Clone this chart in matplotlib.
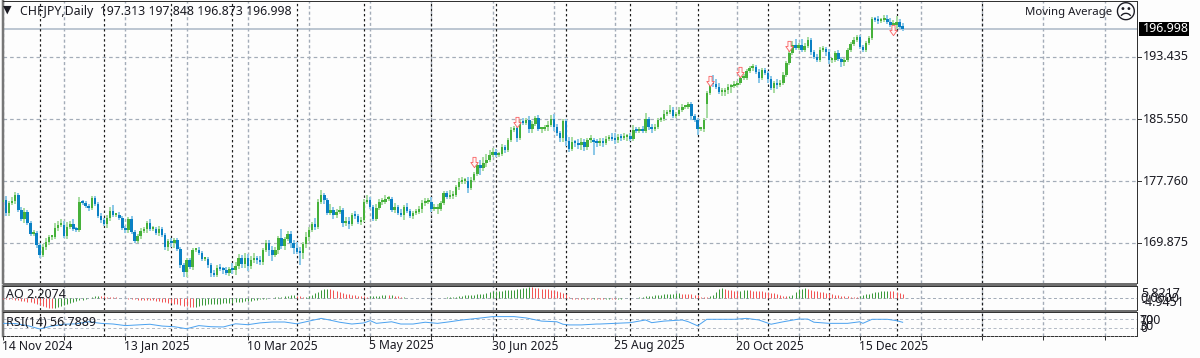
import numpy as np
import matplotlib
matplotlib.use("Agg")
import matplotlib.pyplot as plt
from matplotlib.path import Path

plt.rcParams['font.family'] = ['Noto Sans', 'DejaVu Sans']

# closes, one per daily bar
closes = [
    175.32,173.67,174.94,175.19,175.95,174.05,172.91,173.80,172.40,171.01,
    171.14,169.62,168.35,169.36,170.00,170.63,170.63,171.77,172.15,172.15,
    170.76,171.90,172.28,171.64,171.52,175.06,174.94,174.56,174.30,175.57,
    174.81,173.29,172.78,172.28,173.04,173.92,173.42,173.42,173.04,171.77,
    171.52,172.91,171.26,170.12,170.76,171.39,171.64,172.40,171.64,171.64,
    171.14,171.64,170.88,169.36,170.12,169.87,170.25,169.11,167.08,166.20,
    167.72,166.83,168.98,168.98,168.60,167.84,167.84,167.08,166.07,165.82,
    166.70,166.58,166.45,166.07,166.58,166.45,166.96,167.97,167.21,167.97,
    166.96,167.72,167.84,167.72,167.46,168.98,169.87,168.98,168.35,168.98,
    170.50,169.49,170.38,171.01,169.87,169.24,168.73,168.60,169.74,170.63,
    171.52,172.28,171.90,175.06,175.95,175.32,173.67,174.05,173.42,173.80,
    174.05,172.40,172.66,172.28,173.42,173.29,172.53,172.78,175.06,175.32,
    174.43,172.91,174.30,175.06,175.06,175.44,175.44,174.05,174.43,173.67,
    173.42,174.43,173.92,173.29,173.67,173.80,174.18,174.94,175.06,175.06,
    174.18,174.18,174.18,174.94,176.20,175.70,175.82,175.95,176.96,177.60,
    177.72,177.72,176.84,177.85,178.61,179.75,179.37,180.00,180.38,181.02,
    181.40,181.02,181.14,182.03,181.65,182.92,184.18,184.44,183.17,185.20,
    185.07,185.45,184.31,184.94,185.70,184.31,184.31,184.56,184.82,185.58,
    184.56,183.80,183.17,185.32,182.79,181.78,182.66,182.54,182.28,182.66,
    182.03,182.92,182.92,182.66,182.54,182.79,182.54,183.04,183.30,183.04,
    182.92,183.30,183.17,183.30,183.42,183.04,184.18,184.06,184.18,184.06,
    185.58,184.56,184.31,184.56,185.45,185.58,186.21,186.46,186.72,185.96,
    186.21,186.72,187.10,187.10,187.48,185.96,185.45,184.31,184.31,185.45,
    188.87,190.14,190.01,189.63,189.00,189.00,189.25,189.63,189.76,189.88,
    190.14,190.77,190.77,191.66,192.04,192.16,191.53,190.77,191.78,191.40,
    190.64,189.50,190.14,189.88,190.14,191.15,192.67,193.94,194.95,194.57,
    194.95,194.32,194.82,195.58,194.06,193.43,193.05,194.32,194.44,194.06,
    193.05,193.05,193.94,193.18,192.80,193.05,194.32,195.08,195.58,195.96,
    194.70,194.32,195.20,195.84,198.24,198.12,197.99,198.12,198.24,197.86,
    197.48,197.48,197.86,197.23,196.998,
]
first_open = 175.1
# bars that opened away from the previous close
gap_opens = {230: 187.5, 294: 197.313}

# wick lengths above / below the body, tenths of a yen
wick_hi = [
    3,5,3,5,4,3,4,5,3,3, 4,3,3,4,5,3,3,6,5,7, 5,6,4,6,3,6,3,2,3,3,
    3,2,4,3,4,5,8,3,4,3, 3,3,4,3,3,4,3,3,5,4, 3,4,3,3,2,4,3,3,3,3,
    3,3,3,3,4,3,3,3,3,4, 4,5,3,4,3,8,5,5,4,6, 5,5,7,4,5,3,4,4,5,4,
    3,12,3,4,4,4,7,6,3,6, 4,3,8,4,6,3,3,8,4,4, 5,3,5,5,3,5,3,4,4,6,
    4,3,5,4,5,5,4,3,5,3, 5,3,5,3,3,4,4,4,5,5, 6,6,6,3,3,3,8,5,3,5,
    5,4,5,4,3,4,6,7,7,6, 5,4,3,4,3,3,4,3,3,3, 5,3,5,4,3,4,3,3,5,5,
    6,4,3,3,3,5,6,3,5,5, 4,3,6,3,4,4,4,4,3,5, 8,4,4,5,3,4,6,4,4,5,
    7,3,4,4,3,3,5,3,6,4, 3,4,4,3,3,3,3,3,3,2, 3,5,10,6,5,5,3,4,3,5,
    3,3,5,3,3,4,3,4,3,3, 3,4,3,5,4,4,3,3,5,8, 3,7,4,4,3,3,4,4,4,3,
    4,3,3,4,3,3,3,3,4,3, 3,3,3,3,3,3,5,3,5,5, 5,6,8,4,4,
]
wick_lo = [
    5,4,4,3,4,3,3,5,3,3, 3,4,4,3,4,4,4,3,4,3, 3,4,3,3,3,3,3,3,4,3,
    3,3,4,3,5,4,3,3,3,3, 4,4,3,3,3,4,3,5,3,3, 3,4,3,4,5,5,6,3,4,7,
    6,3,4,3,3,3,3,4,5,3, 3,3,5,3,4,5,6,4,5,5, 7,4,4,5,4,4,3,7,8,3,
    5,4,5,3,6,8,3,15,8,5, 5,3,4,3,3,5,3,3,5,4, 3,5,4,6,3,4,3,4,3,3,
    3,3,3,3,4,3,3,3,4,3, 3,6,3,3,4,3,3,5,4,3, 4,3,6,3,3,3,3,4,3,4,
    3,4,6,3,3,3,9,4,5,3, 3,3,3,3,4,3,3,3,5,3, 3,3,5,5,3,3,5,3,5,3,
    5,4,5,5,6,4,3,5,5,6, 5,4,4,16,5,4,5,3,3,3, 5,4,4,3,5,3,3,3,3,3,
    3,4,5,3,3,3,3,3,3,3, 3,3,3,3,3,5,3,8,3,4, 18,3,4,3,3,5,5,5,7,3,
    3,3,3,3,3,4,3,6,3,3, 5,3,6,5,3,3,3,3,3,3, 3,3,3,3,4,3,3,3,3,5,
    5,4,3,3,7,5,3,3,3,3, 3,3,3,3,3,3,4,3,3,3, 3,3,5,3,3,
]

ao_vals = [
    -0.2,-0.3,-0.4,-0.5,-0.7,-0.9,-1.1,-1.3,-1.6,-1.9,
    -2.2,-2.8,-3.5,-4.0,-4.5,-4.9,-4.945,-4.7,-4.2,-3.7,
    -3.2,-2.6,-2.1,-1.6,-1.3,-1.0,-0.6,-0.1,0.3,0.7,
    1.1,1.4,1.3,1.1,0.9,0.7,0.6,0.5,0.4,0.3,
    0.1,-0.1,-0.3,-0.4,-0.6,-0.7,-0.8,-0.9,-0.95,-1.0,
    -1.1,-1.3,-1.6,-1.9,-2.2,-2.5,-2.8,-3.0,-3.3,-3.6,
    -3.9,-4.2,-4.4,-4.1,-3.7,-3.4,-3.1,-2.9,-2.8,-2.75,
    -2.7,-2.6,-2.5,-2.4,-2.3,-2.2,-2.0,-1.9,-1.7,-1.5,
    -1.3,-1.1,-0.9,-0.7,-0.5,-0.3,-0.1,0.1,0.3,0.5,
    0.7,0.9,1.1,1.3,1.5,1.6,1.4,1.0,0.8,0.9,
    1.0,1.8,2.6,3.3,4.0,4.5,4.8,4.7,4.3,3.8,
    3.3,2.8,2.4,2.0,1.8,1.6,1.4,1.2,1.0,0.8,
    1.0,1.2,1.3,1.4,1.5,1.6,1.5,1.6,1.4,1.3,
    0.6,0.8,0.4,0.2,0.1,0.05,-0.05,0.05,-0.05,0.05,
    0.1,0.2,0.3,0.35,0.4,0.55,0.7,0.8,0.9,1.0,
    1.2,1.5,1.6,1.7,1.9,2.0,2.2,2.4,2.7,3.1,
    3.5,3.6,3.8,3.9,4.0,4.1,4.2,4.3,4.5,4.8,
    5.0,5.4,5.82,5.6,5.3,5.1,4.9,4.7,4.5,4.3,
    4.0,3.7,3.4,2.9,2.4,0.5,-0.2,-0.3,-0.35,-0.4,
    -0.3,-0.4,-0.5,-0.45,-0.5,-0.5,-0.55,-0.4,-0.3,-0.35,
    -0.4,-0.3,-0.1,-0.05,0.1,-0.05,0.2,0.3,0.5,0.8,
    1.0,1.2,1.3,1.5,1.7,1.9,2.0,2.2,2.3,2.4,
    2.5,2.6,2.4,2.3,2.2,2.1,1.9,1.6,0.8,0.6,
    0.5,1.0,1.5,3.3,4.7,5.0,4.5,4.2,4.0,3.9,
    3.8,3.9,4.0,4.1,4.0,3.9,3.8,3.7,3.6,3.4,
    3.2,2.9,2.6,2.1,1.6,1.2,1.0,1.3,1.8,3.3,
    4.5,4.8,5.0,4.9,4.2,3.9,3.6,3.3,3.0,2.8,
    2.5,2.1,1.8,1.5,1.3,1.1,1.0,0.9,0.8,0.7,
    1.3,1.8,2.0,2.3,2.8,3.2,3.4,3.6,3.8,3.9,
    3.8,3.6,3.2,2.9,2.2074,
]

rsi_bars = [0,4,8,12,16,20,24,28,32,36,40,44,48,52,56,60,64,68,72,76,80,84,88,92,96,
            100,104,107,110,114,118,120,122,127,130,134,138,142,146,150,155,160,167,171,
            176,181,183,185,189,194,195,200,205,210,212,216,222,224,227,230,234,239,243,
            247,251,255,260,263,265,270,276,280,281,284,289,292,294]
rsi_vals = [52,51,42,27,40,48,50,59,52,49,42,45,48,40,37,28,42,37,36,50,46,54,58,58,50,
            62,74,66,57,49,54,64,52,59,49,49,57,52,59,67,74,82,82,76,
            62,59,48,45,45,49,49,52,55,67,55,62,67,59,41,70,70,70,74,
            67,48,59,71,71,57,52,52,59,52,70,70,64,56.7889]

arrow_bars = [154, 168, 231, 241, 257, 291]
arrow_prices = [180.13, 185.20, 190.43, 191.57, 194.86, 196.85]

price_ticks = [193.435, 185.550, 177.760, 169.875]
last_price = 196.998
date_bars = [0, 40, 80, 120, 160, 200, 240, 280]
date_labels = ['14 Nov 2024', '13 Jan 2025', '10 Mar 2025', '5 May 2025',
               '30 Jun 2025', '25 Aug 2025', '20 Oct 2025', '15 Dec 2025']
grid_bars = list(range(0, 361, 20))
month_bars = [12, 33, 55, 75, 96, 118, 140, 161, 184, 205, 227, 250, 270, 292, 320]

assert len(closes) == len(wick_hi) == len(wick_lo) == len(ao_vals) == 295
assert len(rsi_bars) == len(rsi_vals)

opens = np.array([first_open] + closes[:-1])
for k, v in gap_opens.items():
    opens[k] = v
closes = np.array(closes)
highs = np.maximum(opens, closes) + np.array(wick_hi) / 10
lows = np.minimum(opens, closes) - np.array(wick_lo) / 10
bars = np.arange(len(closes))

W, H = 1200, 358
BG = '#fdfdfd'
GRID = '#a3acb8'
DARK = '#1c1c1c'
TXT = '#1a1a22'
PX = 0.72  # one pixel in points at dpi 100


def panel(top, bottom):
    return fig.add_axes([3 / W, 1 - bottom / H, (1137 - 3) / W, (bottom - top) / H])


def px_text(x, y, s, **kw):
    kw.setdefault('fontsize', 9)
    kw.setdefault('color', TXT)
    fig.text(x / W, 1 - y / H, s, va='center', **kw)


fig = plt.figure(figsize=(W / 100, H / 100), dpi=100, facecolor=BG)
ax = panel(1, 283)
ax_ao = panel(286, 310)
ax_rsi = panel(312, 336)

bar_per_px = 1 / 3.06
xlim = (0, (1137 - 3) * bar_per_px)
for a in (ax, ax_ao, ax_rsi):
    a.set_facecolor(BG)
    a.set_xlim(*xlim)
    a.set_xticks([])
    a.set_yticks([])
    a.vlines(grid_bars, 0, 1, transform=a.get_xaxis_transform(), color=GRID,
             lw=1.4 * PX, linestyles=(0, (2.2, 1.8)), zorder=1)
    a.vlines(month_bars, 0, 1, transform=a.get_xaxis_transform(), color=DARK,
             lw=1.2 * PX, linestyles=(0, (2, 2.2)), zorder=1.5)
    for side in a.spines.values():
        side.set_linewidth(1.0 * PX)
        side.set_color('#333333')
    a.spines['left'].set_linewidth(2.5 * PX)
    a.spines['left'].set_color('#777777')

# main price panel
ax.set_ylim(164.80, 200.52)
ax.hlines(price_ticks, *xlim, color=GRID, lw=1.2 * PX, linestyles=(0, (3, 2.5)), zorder=1)
ax.axhline(last_price, color='#a9b6c4', lw=1.5 * PX, zorder=1.2)

up = closes >= opens
for mask, body_col, wick_col in ((up, '#46b13a', '#a9dca3'), (~up, '#0a80c4', '#8cc8e8')):
    ax.vlines(bars[mask], lows[mask], highs[mask], color=wick_col, lw=2 * PX, zorder=2)
    body_lo = np.minimum(opens, closes)[mask]
    body_h = np.maximum(np.abs(closes - opens)[mask], 0.25)
    ax.bar(bars[mask], body_h, bottom=body_lo, width=0.8, color=body_col, lw=0, zorder=3)

# hollow sell arrows
arrow = Path([(-0.15, 0.5), (0.15, 0.5), (0.15, 0.0), (0.36, 0.0), (0, -0.5),
              (-0.36, 0.0), (-0.15, 0.0), (-0.15, 0.5)], closed=True)
ax.scatter(arrow_bars, arrow_prices, marker=arrow, s=55, facecolor='#fff8f8',
           edgecolor='#fa5f60', linewidth=0.6, zorder=5)

# AO panel
ao_vals = np.array(ao_vals)
ax_ao.set_ylim(-5.85, 6.15)
ao_rising = np.r_[False, ao_vals[1:] > ao_vals[:-1]]
ax_ao.axhline(0, color=GRID, lw=1.0 * PX, ls=(0, (3, 2.5)), zorder=1)
ax_ao.vlines(bars[ao_rising], 0, ao_vals[ao_rising], color='#3c9a3c', lw=1.0 * PX, zorder=3)
ax_ao.vlines(bars[~ao_rising], 0, ao_vals[~ao_rising], color='#f25555', lw=1.0 * PX, zorder=3)

# RSI panel
ax_rsi.set_ylim(-4.2, 102.4)
ax_rsi.hlines([70, 30], *xlim, color='#b5bcc6', lw=1.0 * PX, linestyles=(0, (3, 2.5)), zorder=1)
ax_rsi.plot(rsi_bars, rsi_vals, color='#4da3f0', lw=1.0 * PX, zorder=3)
ax_rsi.spines['bottom'].set_linestyle((0, (2.5, 1.5)))

# thick separators between the panels
for y0, y1 in ((283, 286), (310, 312)):
    fig.patches.append(plt.Rectangle((3 / W, 1 - y1 / H), 1134 / W, (y1 - y0) / H,
                                     transform=fig.transFigure, facecolor='#6f6f6f',
                                     edgecolor='none', zorder=6))

# date ticks and labels
ax_rsi.set_xticks(date_bars + [b for b in grid_bars if b not in date_bars])
ax_rsi.set_xticklabels([])
ax_rsi.tick_params(axis='x', length=3, width=PX, color='#333333', pad=0)
for b, lab in zip(date_bars, date_labels):
    px_text(2 + 3.06 * b, 346, lab, ha='left', fontsize=8.7)

# price axis
for p, y in zip(price_ticks, (57, 119, 181, 243)):
    px_text(1143, y, f'{p:.3f}', ha='left')
    fig.add_artist(plt.Line2D([1137 / W, 1141 / W], [1 - y / H, 1 - y / H], color='#333333', lw=PX))
fig.patches.append(plt.Rectangle((1139 / W, 1 - 36 / H), 50 / W, 14 / H,
                                 transform=fig.transFigure, facecolor='black',
                                 edgecolor='none', zorder=6))
px_text(1143, 29, f'{last_price:.3f}', ha='left', color='white', zorder=7)

# header and panel captions
px_text(3, 9.5, '\u25bc', fontsize=8, family=['DejaVu Sans'])
px_text(20, 11, 'CHFJPY,Daily  197.313 197.848 196.873 196.998', zorder=8, fontsize=8.9)
px_text(1112, 13, 'Moving Average', ha='right', fontsize=8.2)
px_text(1125, 13, '\u2639', ha='center', fontsize=15, family=['DejaVu Sans'])
px_text(6, 295, 'AO 2.2074', zorder=8)
px_text(6, 322, 'RSI(14) 56.7889', zorder=8)

# squeezed indicator scale labels
px_text(1141, 293.5, '5.8217', ha='left')
px_text(1140, 298.5, '0.0000', ha='left')
px_text(1141, 302, '-4.9451', ha='left')
px_text(1140, 320.5, '100', ha='left')
px_text(1140, 320.5, '70', ha='left')
px_text(1140, 327, '30', ha='left')
px_text(1140, 329, '0', ha='left')

fig.savefig('out.png', dpi=100, facecolor=BG)
